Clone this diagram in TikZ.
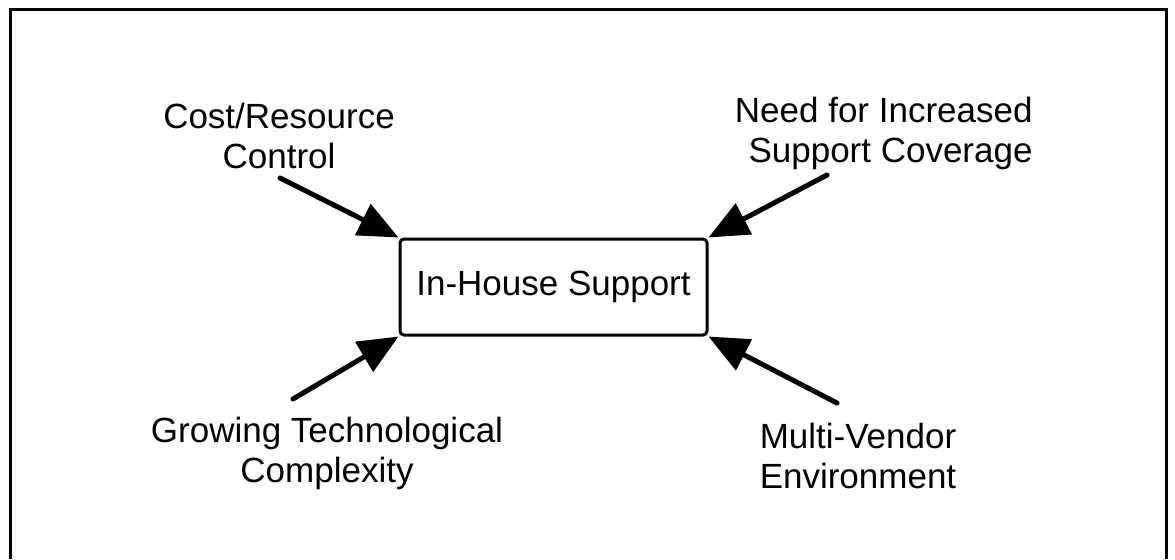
\documentclass[tikz,border=0pt]{standalone}
\usepackage{fontspec}
\setmainfont{Liberation Sans}
\usetikzlibrary{arrows.meta}

\begin{document}
\begin{tikzpicture}[x=0.5pt, y=-0.5pt,
    every node/.style={font=\fontsize{17.5}{20}\selectfont, inner sep=0pt},
    factor/.style={align=center},
    feed/.style={line width=2.5pt, line cap=round, -{Triangle[length=20pt, width=17pt]}}]
    \useasboundingbox (0,0) rectangle (1175,559);

    % Draw open frame
    \draw[line width=1.5pt] (10,559) -- (10,9) -- (1166,9) -- (1166,559);

    % Central box
    \node[draw, line width=1.5pt, rounded corners=2pt, minimum width=153.5pt, minimum height=48pt] (house) at (553.5,287) {In-House Support};

    % Factors round the box
    \node[factor] (cost) at (279,136) {Cost/Resource\\Control};
    \node[factor, align=right, anchor=east] (need) at (1033,133) {Need for Increased\\Support Coverage};
    \node[factor] (grow) at (327,453) {Growing Technological\\Complexity};
    \node[factor] (multi) at (858,456) {Multi-Vendor\\Environment};

    % Arrow tails below the labels
    \coordinate (costtail) at (280,178);
    \coordinate (needtail) at (827,175);
    \coordinate (growtail) at (293,399);
    \coordinate (multitail) at (837,403);

    % Draw arrows into the corners
    \foreach \tail/\corner in {costtail/north west, needtail/north east, growtail/south west, multitail/south east} {
      \draw[feed] (\tail) -- (house.\corner);
    }
\end{tikzpicture}
\end{document}
